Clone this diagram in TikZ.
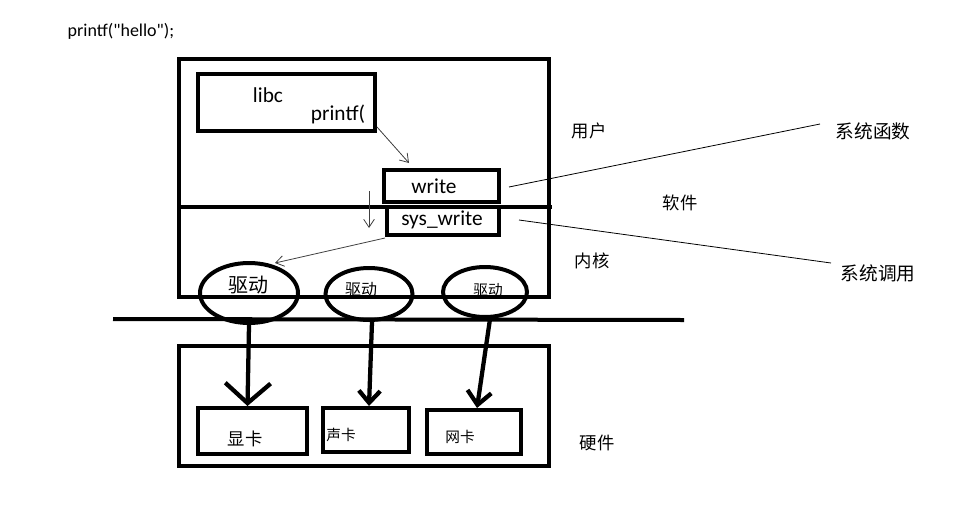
\documentclass[tikz,border=0pt]{standalone}
\usepackage{fontspec}
\setmainfont{Noto Sans CJK SC}
\newfontfamily\lat{Carlito}
\usetikzlibrary{arrows.meta,shapes.geometric}
\begin{document}
\begin{tikzpicture}[x=0.75pt,y=-0.75pt,
  thickbox/.style={draw=black,line width=3pt},
  thinline/.style={draw=black!75,line width=0.6pt},
  thinarrow/.style={thinline,-{Straight Barb[length=6pt,width=8pt]}},
  bigarrow/.style={draw=black,line width=3.2pt},
  lbl/.style={inner sep=0pt,font=\fontsize{13pt}{15pt}\selectfont},
  slbl/.style={inner sep=0pt,font=\fontsize{11pt}{13pt}\selectfont},
  latl/.style={inner sep=0pt,font=\lat\fontsize{16pt}{18pt}\selectfont},
  drv/.style={ellipse,thickbox,inner sep=0pt}]
\useasboundingbox (0,0) rectangle (969,521);
% top text
\node[inner sep=0pt,font=\lat\fontsize{13.5pt}{15pt}\selectfont] (code) at (121,31) {printf("hello");};
% software box
\node[thickbox,minimum width=370*0.75pt,minimum height=238*0.75pt,inner sep=0pt] (sw) at (364,178) {};
\coordinate (divL) at (179,207);
\coordinate (divR) at (552,207);
\draw[line width=3pt] (divL) -- (divR);
% libc
\node[thickbox,minimum width=177*0.75pt,minimum height=57*0.75pt,inner sep=0pt] (libc) at (286.5,102.5) {};
\node[latl] (libct) at (268,95) {libc};
\begin{scope}
\clip (200,76) rectangle (372,129);
\node[latl] (printft) at (338,114) {printf(};
\end{scope}
% write and sys_write
\node[thickbox,minimum width=115*0.75pt,minimum height=32*0.75pt,inner sep=0pt] (write) at (441.5,186) {};
\node[latl] (writet) at (434,186) {write};
\node[thickbox,minimum width=112*0.75pt,minimum height=28*0.75pt,inner sep=0pt] (syswrite) at (443,221) {};
\node[latl] (syswritet) at (442,220) {sys\_write};
% drivers
\node[drv,minimum width=98*0.75pt,minimum height=60*0.75pt] (d1) at (249,293) {};
\node[lbl,font=\fontsize{15pt}{17pt}\selectfont] (d1t) at (248,285) {驱动};
\node[drv,minimum width=87*0.75pt,minimum height=52*0.75pt] (d2) at (369,294) {};
\node[slbl,font=\fontsize{12pt}{14pt}\selectfont] (d2t) at (361,290) {驱动};
\node[drv,minimum width=84*0.75pt,minimum height=50*0.75pt] (d3) at (485,292) {};
\node[slbl] (d3t) at (488,290) {驱动};
% boundary line
\coordinate (bL) at (113,319);
\coordinate (bR) at (684,320);
\draw[line width=3pt] (bL) -- (bR);
% hardware box
\node[thickbox,minimum width=370*0.75pt,minimum height=120*0.75pt,inner sep=0pt] (hw) at (364,406) {};
\node[thickbox,minimum width=109*0.75pt,minimum height=46*0.75pt,inner sep=0pt] (gpu) at (252.5,431) {};
\node[lbl] (gput) at (245,439) {显卡};
\node[thickbox,minimum width=86*0.75pt,minimum height=44*0.75pt,inner sep=0pt] (snd) at (366,430) {};
\node[slbl] (sndt) at (341,435) {声卡};
\node[thickbox,minimum width=94*0.75pt,minimum height=44*0.75pt,inner sep=0pt] (net) at (474,432) {};
\node[slbl] (nett) at (460,437) {网卡};
% thick arrows
\draw[bigarrow,-{Straight Barb[length=15pt,width=34pt,line width=3.2pt]}] (d1.south) -- ([xshift=-5*0.75pt]gpu.north);
\draw[bigarrow,-{Straight Barb[length=9pt,width=16pt,line width=3.2pt]}] ([xshift=3*0.75pt]d2.south) -- ([xshift=3*0.75pt]snd.north);
\draw[bigarrow,-{Straight Barb[length=10pt,width=18pt,line width=3.2pt]}] ([xshift=5*0.75pt]d3.south) -- ([xshift=3*0.75pt]net.north);
% thin arrows
\coordinate (pa) at (377,127);
\coordinate (wa) at (409,163);
\draw[thinarrow] (pa) -- (wa);
\coordinate (da) at (369,191);
\coordinate (db) at (369,228);
\draw[thinarrow] (da) -- (db);
\coordinate (sa) at (385,238);
\coordinate (sb) at (275,263);
\draw[thinarrow] (sa) -- (sb);
% side labels
\node[lbl] (user) at (589,131) {用户};
\node[lbl] (soft) at (680,203) {软件};
\node[lbl] (kern) at (592,261) {内核};
\node[lbl] (hard) at (597,443) {硬件};
\node[lbl,font=\fontsize{14pt}{16pt}\selectfont] (sysf) at (873,131) {系统函数};
\node[lbl,font=\fontsize{14pt}{16pt}\selectfont] (sysc) at (878,273) {系统调用};
\coordinate (l1a) at (509,187);
\coordinate (l1b) at (820,124);
\draw[thinline,draw=black] (l1a) -- (l1b);
\coordinate (l2a) at (519,220);
\coordinate (l2b) at (831,263);
\draw[thinline,draw=black] (l2a) -- (l2b);
\end{tikzpicture}
\end{document}
